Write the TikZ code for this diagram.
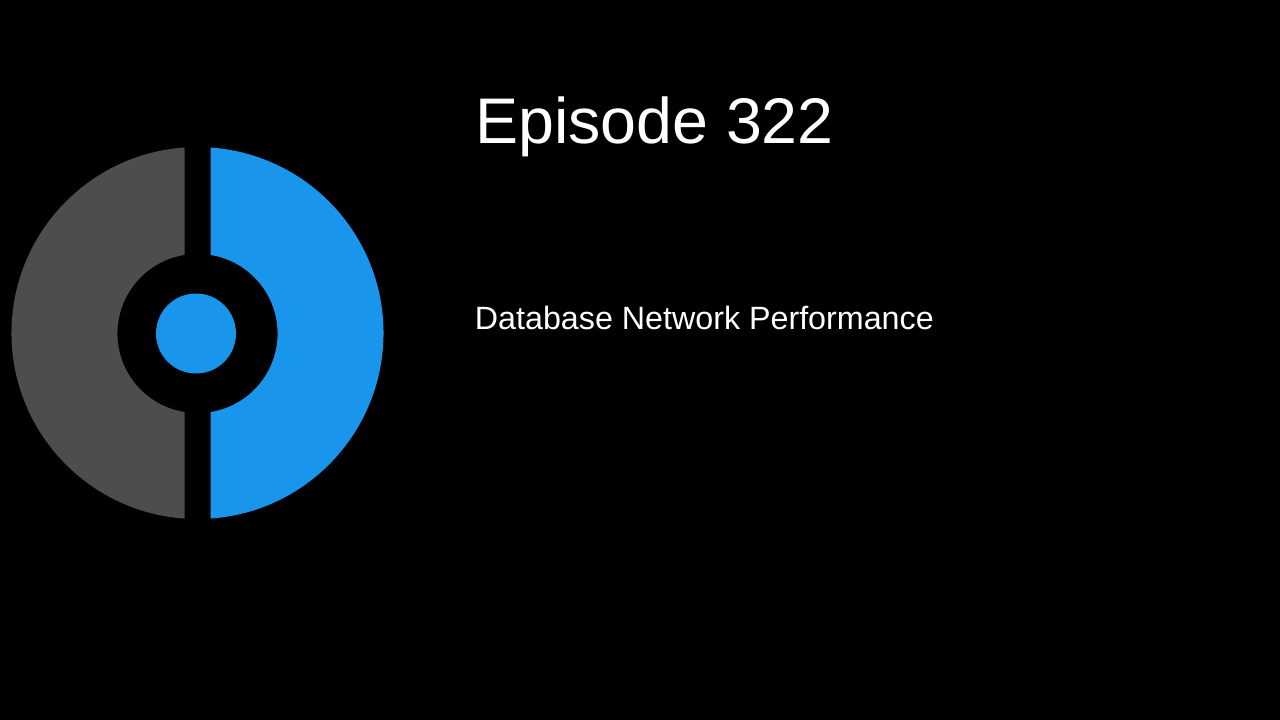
\documentclass[tikz,border=0pt]{standalone}
\usepackage{fontspec}
\setmainfont{Liberation Sans}
\definecolor{logoblue}{HTML}{1995EB}
\definecolor{logogrey}{HTML}{4D4D4D}
\tikzset{px/.style={x=1pt,y=-1pt},
title/.style={anchor=base west,text=white,inner sep=0pt,font=\fontsize{64.5}{70}\selectfont},
sub/.style={anchor=base west,text=white,inner sep=0pt,font=\fontsize{32.25}{38}\selectfont}}
\begin{document}
\begin{tikzpicture}[px]
\fill[black] (0,0) rectangle (1280,720);
\useasboundingbox (0,0) rectangle (1280,720);
% grey half
\fill[logogrey]
 (184.5,147.5) arc[start angle=-94,end angle=-266,radius=186] -- (184.5,412) arc[start angle=-261,end angle=-99,radius=79.5] -- cycle;
% blue half
\fill[logoblue]
 (210.5,147.5) arc[start angle=-86,end angle=86,radius=186] -- (210.5,412) arc[start angle=81,end angle=-81,radius=79.5] -- cycle;
\fill[logoblue] (196,333.5) circle[radius=40];
\node[title] (t1) at (475,143) {Episode 322};
\node[sub] (t2) at (474.7,329) {Database Network Performance};
\end{tikzpicture}
\end{document}
